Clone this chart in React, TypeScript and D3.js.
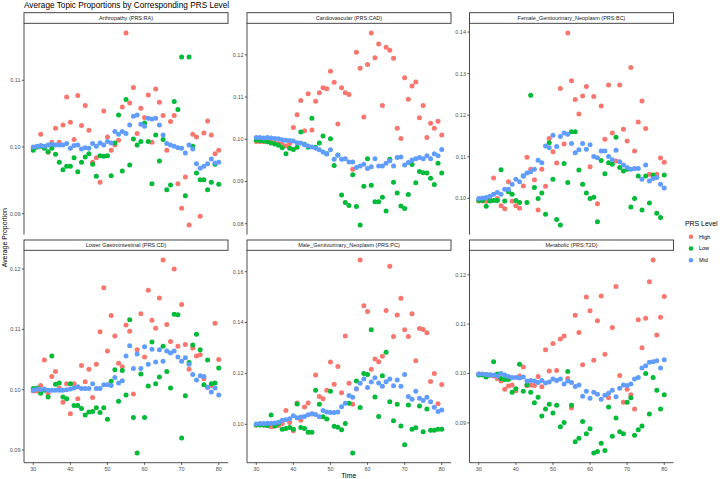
import React from "react";
import * as d3 from "d3";

const ages = [30,31,32,33,34,35,36,37,38,39,40,41,42,43,44,45,46,47,48,49,50,51,52,53,54,55,56,57,58,59,60,61,62,63,64,65,66,67,68,69,70,71,72,73,74,75,76,77,78,79,80];
const xTicks = [30, 40, 50, 60, 70, 80];
const levels = ["High", "Low", "Mid"];
const levelColors = ["#F8766D", "#00BA38", "#619CFF"];
const panelTitles = [
  "Arthropathy (PRS:RA)",
  "Cardiovascular (PRS:CAD)",
  "Female_Genitourinary_Neoplasm (PRS:BC)",
  "Lower Gastrointestinal (PRS:CD)",
  "Male_Genitourinary_Neoplasm (PRS:PC)",
  "Metabolic (PRS:T2D)",
];

const arthHigh = [0.0998,0.1000,0.1019,0.0999,0.0992,0.1007,0.1028,0.1007,0.1033,0.1075,0.1037,0.1011,0.1077,0.1032,0.1062,0.1025,0.0977,0.0984,0.0947,0.1054,0.1015,0.0995,0.1003,0.1010,0.1060,0.1171,0.1066,0.1089,0.1020,0.1058,0.1044,0.1078,0.1007,0.1087,0.1067,0.1047,0.0995,0.1038,0.1047,0.0945,0.0908,0.0955,0.0883,0.1019,0.1015,0.0896,0.1021,0.1039,0.1018,0.0990,0.0995];
const arthLow = [0.0995,0.1000,0.1001,0.0998,0.0993,0.0998,0.0989,0.0977,0.0966,0.0971,0.0971,0.0984,0.0963,0.0977,0.0985,0.0990,0.0974,0.0956,0.0987,0.0986,0.0987,0.0957,0.1006,0.1048,0.0964,0.1071,0.0973,0.1012,0.1003,0.1008,0.1036,0.1008,0.0945,0.1018,0.0979,0.1011,0.0936,0.0943,0.1068,0.1056,0.1135,0.0927,0.1135,0.1001,0.0961,0.0951,0.0951,0.0936,0.0947,0.0974,0.0944];
const arthMid = [0.1000,0.1001,0.1002,0.1001,0.1003,0.1004,0.1003,0.1003,0.1003,0.1005,0.0998,0.1002,0.1003,0.0997,0.0999,0.0998,0.1005,0.1001,0.1006,0.1003,0.1008,0.1006,0.1023,0.1019,0.1023,0.1020,0.1033,0.1046,0.1048,0.1034,0.1031,0.1043,0.1042,0.1043,0.1033,0.1018,0.1005,0.1003,0.1001,0.0999,0.0998,0.0991,0.1003,0.0997,0.0975,0.0968,0.0971,0.0975,0.0982,0.0976,0.0977];

const cardHigh = [0.0995,0.0995,0.0995,0.0994,0.0993,0.0991,0.0990,0.0988,0.0984,0.0990,0.1028,0.1058,0.1092,0.1020,0.1108,0.1022,0.1090,0.1110,0.1122,0.1120,0.1161,0.1135,0.1036,0.1122,0.1110,0.1106,0.0929,0.1206,0.1168,0.1053,0.1177,0.1252,0.1193,0.1226,0.1080,0.1218,0.1211,0.1192,0.1026,0.1002,0.1146,0.1095,0.1126,0.1136,0.1051,0.1080,0.1004,0.1038,0.1026,0.1043,0.1010];
const cardLow = [0.0998,0.0997,0.0996,0.0994,0.0991,0.0989,0.0986,0.0980,0.0966,0.0979,0.0976,0.0981,0.1017,0.0988,0.0981,0.1050,0.0981,0.0991,0.1008,0.0966,0.1001,0.0938,0.0963,0.0868,0.0850,0.0843,0.0916,0.0841,0.0797,0.0889,0.0954,0.0891,0.0852,0.0852,0.0863,0.0830,0.0953,0.0898,0.0873,0.0842,0.0836,0.0869,0.0940,0.0897,0.0924,0.0921,0.0920,0.0908,0.0893,0.0943,0.0920];
const cardMid = [0.1004,0.1004,0.1003,0.1004,0.1003,0.1002,0.1001,0.0999,0.0998,0.0997,0.0996,0.0992,0.0991,0.0987,0.0984,0.0982,0.0979,0.0975,0.0970,0.0965,0.0975,0.0953,0.0962,0.0953,0.0954,0.0946,0.0946,0.0933,0.0937,0.0941,0.0931,0.0935,0.0954,0.0937,0.0937,0.0943,0.0949,0.0937,0.0957,0.0958,0.0939,0.0945,0.0951,0.0954,0.0957,0.0954,0.0961,0.0954,0.0966,0.0961,0.0976];

const femHigh = [0.0994,0.0994,0.0993,0.0998,0.1049,0.1000,0.0982,0.0975,0.1040,0.0993,0.0982,0.0976,0.1030,0.1099,0.1070,0.1045,0.0972,0.1070,0.1029,0.1144,0.1112,0.1085,0.1264,0.1131,0.1398,0.1283,0.1238,0.1203,0.1246,0.1269,0.1076,0.1245,0.0987,0.1222,0.1142,0.1273,0.1157,0.1090,0.1273,0.1166,0.1138,0.1315,0.1114,0.1184,0.1234,0.1168,0.1058,0.1050,0.1058,0.1097,0.1087];
const femLow = [0.0995,0.0995,0.0981,0.0994,0.0995,0.0995,0.1069,0.0994,0.1016,0.1010,0.0995,0.0990,0.1054,0.0990,0.1248,0.1026,0.1000,0.1013,0.0962,0.1134,0.1046,0.0949,0.0936,0.1084,0.1038,0.1160,0.1160,0.1068,0.1034,0.1013,0.1000,0.1003,0.0944,0.1091,0.1059,0.1086,0.1082,0.1147,0.1074,0.1066,0.1070,0.0979,0.1000,0.1054,0.0972,0.1054,0.0989,0.1056,0.0964,0.0954,0.1056];
const femMid = [0.1000,0.1001,0.1002,0.1005,0.1010,0.1014,0.1010,0.1022,0.1022,0.1034,0.1046,0.1040,0.1054,0.1061,0.1064,0.1070,0.1092,0.1086,0.1126,0.1122,0.1152,0.1125,0.1149,0.1157,0.1154,0.1132,0.1110,0.1117,0.1132,0.1118,0.1129,0.1101,0.1098,0.1114,0.1114,0.1101,0.1093,0.1116,0.1088,0.1080,0.1074,0.1070,0.1072,0.1072,0.1046,0.1080,0.1042,0.1048,0.1050,0.1034,0.1025];

const lgiHigh = [0.0998,0.0998,0.1007,0.1049,0.0994,0.1022,0.1030,0.1003,0.0979,0.1010,0.0960,0.1010,0.0985,0.1040,0.1013,0.1034,0.0987,0.1042,0.1096,0.1169,0.1064,0.1123,0.1089,0.1044,0.1038,0.1107,0.1097,0.0993,0.1066,0.1126,0.1054,0.1165,0.1115,0.1102,0.1152,0.1215,0.1108,0.1080,0.1200,0.1072,0.1141,0.1075,0.1034,0.1069,0.1056,0.1058,0.1018,0.1004,0.1007,0.1110,0.1050];
const lgiLow = [0.1002,0.1003,0.0994,0.0999,0.0988,0.1056,0.1009,0.1011,0.0988,0.0985,0.1010,0.0974,0.0974,0.0969,0.0958,0.0963,0.0964,0.0970,0.0962,0.0970,0.0951,0.1014,0.1033,0.0981,0.1032,0.0991,0.1116,0.0954,0.0895,0.1026,0.0954,0.1006,0.1079,0.1010,0.1021,0.1072,0.1030,0.1003,0.1125,0.1124,0.0920,0.0990,0.1045,0.1074,0.1092,0.1066,0.1008,0.1049,0.1010,0.1011,0.1036];
const lgiMid = [0.0999,0.1001,0.1000,0.1001,0.0999,0.0999,0.0999,0.0999,0.0999,0.1000,0.1001,0.1003,0.1005,0.1002,0.1002,0.1002,0.1010,0.1002,0.1002,0.1008,0.1008,0.1007,0.1020,0.1011,0.1015,0.1056,0.1073,0.1035,0.1059,0.1035,0.1071,0.1042,0.1067,0.1046,0.1066,0.1047,0.1064,0.1061,0.1064,0.1054,0.1047,0.1053,0.1042,0.1025,0.1016,0.1023,0.1022,0.1004,0.0996,0.1003,0.0991];

const maleHigh = [0.0997,0.0998,0.0997,0.0995,0.0990,0.0993,0.0995,0.1003,0.1054,0.1007,0.0975,0.1084,0.1016,0.1068,0.1084,0.1040,0.1194,0.1109,0.1100,0.1134,0.1245,0.1157,0.1227,0.1124,0.1347,0.1161,0.1079,0.1139,0.1646,0.1466,0.1443,0.1216,0.1257,0.1246,0.1267,0.1447,0.1621,0.1345,0.1430,0.1495,0.1372,0.1345,0.1435,0.1250,0.1377,0.1373,0.1360,0.1168,0.1200,0.1081,0.1156];
const maleLow = [0.0997,0.0997,0.0997,0.0995,0.1037,0.0993,0.1003,0.0981,0.0983,0.0987,0.0981,0.1080,0.0987,0.0983,0.0969,0.0969,0.1134,0.1079,0.1030,0.1021,0.1130,0.0992,0.0988,0.0979,0.1003,0.1083,0.0887,0.1170,0.1066,0.1200,0.1196,0.1372,0.1107,0.1031,0.1191,0.1283,0.1089,0.1014,0.1079,0.0993,0.0920,0.1076,0.0981,0.0986,0.1072,0.0971,0.1060,0.0977,0.0977,0.0981,0.0981];
const maleMid = [0.1001,0.1003,0.1003,0.1004,0.1004,0.1005,0.1008,0.1016,0.1018,0.1022,0.1034,0.1026,0.1029,0.1031,0.1038,0.1041,0.1039,0.1030,0.1054,0.1048,0.1046,0.1046,0.1048,0.1069,0.1083,0.1113,0.1106,0.1140,0.1161,0.1178,0.1145,0.1166,0.1183,0.1162,0.1150,0.1167,0.1178,0.1152,0.1174,0.1150,0.1196,0.1109,0.1098,0.1130,0.1102,0.1094,0.1106,0.1089,0.1067,0.1050,0.1056];

const metaHigh = [0.0999,0.0998,0.0998,0.0997,0.0995,0.0990,0.0985,0.0968,0.0975,0.0977,0.0965,0.0995,0.1013,0.0976,0.0977,0.0976,0.0994,0.0973,0.1048,0.1005,0.1061,0.1006,0.1070,0.1076,0.0990,0.0930,0.1118,0.1083,0.1018,0.1155,0.1127,0.1027,0.1107,0.1157,0.1039,0.0951,0.1093,0.1176,0.0996,0.0942,0.0968,0.0957,0.0928,0.1109,0.1052,0.1112,0.1186,0.1230,0.1078,0.1114,0.1156];
const metaLow = [0.0997,0.0997,0.0993,0.0997,0.1024,0.0999,0.0990,0.0988,0.0988,0.0962,0.0969,0.1019,0.0964,0.0977,0.0962,0.0941,0.0952,0.0914,0.0928,0.0938,0.0920,0.0936,0.0892,0.0901,0.1004,0.0936,0.0862,0.0869,0.0903,0.0878,0.0888,0.0839,0.0842,0.0859,0.0844,0.0932,0.0873,0.0910,0.0882,0.0878,0.0942,0.0951,0.0875,0.0886,0.0894,0.1000,0.0918,0.0992,0.0966,0.0928,0.0957];
const metaMid = [0.0999,0.0999,0.0998,0.0997,0.0997,0.0995,0.1000,0.0997,0.0994,0.0992,0.0992,0.0991,0.0993,0.0985,0.0986,0.0985,0.0982,0.0986,0.0981,0.0983,0.0989,0.0986,0.0989,0.0979,0.0985,0.0982,0.0974,0.0977,0.0954,0.0964,0.0950,0.0962,0.0958,0.0948,0.0956,0.0960,0.0966,0.0953,0.0970,0.0977,0.0976,0.0979,0.0989,0.0992,0.1011,0.1016,0.1023,0.1024,0.1026,0.1011,0.1028];

const yTicksArth = [0.09, 0.10, 0.11];
const yTicksCard = [0.08, 0.09, 0.10, 0.11, 0.12];
const yTicksFem = [0.10, 0.11, 0.12, 0.13, 0.14];
const yTicksLgi = [0.09, 0.10, 0.11, 0.12];
const yTicksMale = [0.10, 0.12, 0.14, 0.16];
const yTicksMeta = [0.09, 0.10, 0.11, 0.12];

const panelSeries = [
  [arthHigh, arthLow, arthMid],
  [cardHigh, cardLow, cardMid],
  [femHigh, femLow, femMid],
  [lgiHigh, lgiLow, lgiMid],
  [maleHigh, maleLow, maleMid],
  [metaHigh, metaLow, metaMid],
];
const panelTicks = [yTicksArth, yTicksCard, yTicksFem, yTicksLgi, yTicksMale, yTicksMeta];

const FONT = "'Liberation Sans', Arial, Helvetica, sans-serif";
const colX = [24, 247, 469.5];
const panelW = 204;
const rows = [
  { stripTop: 12.7, panelTop: 23.3, panelBot: 234.6 },
  { stripTop: 240, panelTop: 250.3, panelBot: 462.7 },
];

function Panel({ idx }: { idx: number }) {
  const col = idx % 3;
  const row = Math.floor(idx / 3);
  const left = colX[col];
  const { stripTop, panelTop, panelBot } = rows[row];
  const series = panelSeries[idx];
  const all = series.flat();
  const [mn, mx] = d3.extent(all) as [number, number];
  const pad = (mx - mn) * 0.05;
  const x = d3.scaleLinear().domain([27.5, 82.5]).range([left, left + panelW]);
  const y = d3.scaleLinear().domain([mn - pad, mx + pad]).range([panelBot, panelTop]);
  const fmt = d3.format(".2f");
  return (
    <g>
      <rect x={left} y={stripTop} width={panelW} height={panelTop - stripTop} fill="#fff" stroke="#333" strokeWidth={0.9} />
      <text x={left + panelW / 2} y={stripTop + 7.3} fontSize={5.5} textAnchor="middle" fill="#1A1A1A" fontFamily={FONT}>
        {panelTitles[idx]}
      </text>
      {series.map((vals, si) => (
        <g key={si}>
          {vals.map((v, i) => (
            <circle key={i} cx={x(ages[i])} cy={y(v)} r={2.5} fill={levelColors[si]} />
          ))}
        </g>
      ))}
      <line x1={left} x2={left} y1={panelTop} y2={panelBot} stroke="#222" strokeWidth={0.8} />
      {panelTicks[idx].map((t) => (
        <g key={t}>
          <line x1={left - 2.2} x2={left} y1={y(t)} y2={y(t)} stroke="#333" strokeWidth={0.8} />
          <text x={left - 3.5} y={y(t)} dy="0.35em" fontSize={5.5} textAnchor="end" fill="#4D4D4D" fontFamily={FONT}>
            {fmt(t)}
          </text>
        </g>
      ))}
      {row === 1 && (
        <g>
          <line x1={left} x2={left + panelW} y1={panelBot} y2={panelBot} stroke="#222" strokeWidth={0.8} />
          {xTicks.map((t) => (
            <g key={t}>
              <line x1={x(t)} x2={x(t)} y1={panelBot} y2={panelBot + 2.2} stroke="#333" strokeWidth={0.8} />
              <text x={x(t)} y={panelBot + 7.8} fontSize={5.5} textAnchor="middle" fill="#4D4D4D" fontFamily={FONT}>
                {t}
              </text>
            </g>
          ))}
        </g>
      )}
    </g>
  );
}

export default function App() {
  const legendY = [236.7, 248.5, 260.3];
  return (
    <svg width={720} height={479} style={{ position: "fixed", left: 0, top: 0, background: "#fff" }} fontFamily={FONT}>
      <rect x={0} y={0} width={720} height={479} fill="#fff" />
      <text x={24} y={7.6} fontSize={8.25} fill="#000">Average Topic Proportions by Corresponding PRS Level</text>
      {panelTitles.map((_, i) => (
        <Panel key={i} idx={i} />
      ))}
      <text transform="translate(7.2,237.7) rotate(-90)" fontSize={6.9} textAnchor="middle" fill="#000">Average Proportion</text>
      <text x={348.7} y={477.5} fontSize={6.9} textAnchor="middle" fill="#000">Time</text>
      <text x={685} y={226} fontSize={6.9} fill="#000">PRS Level</text>
      {levels.map((l, i) => (
        <g key={l}>
          <circle cx={691} cy={legendY[i]} r={2.3} fill={levelColors[i]} />
          <text x={699} y={legendY[i]} dy="0.35em" fontSize={5.5} fill="#000">{l}</text>
        </g>
      ))}
    </svg>
  );
}
